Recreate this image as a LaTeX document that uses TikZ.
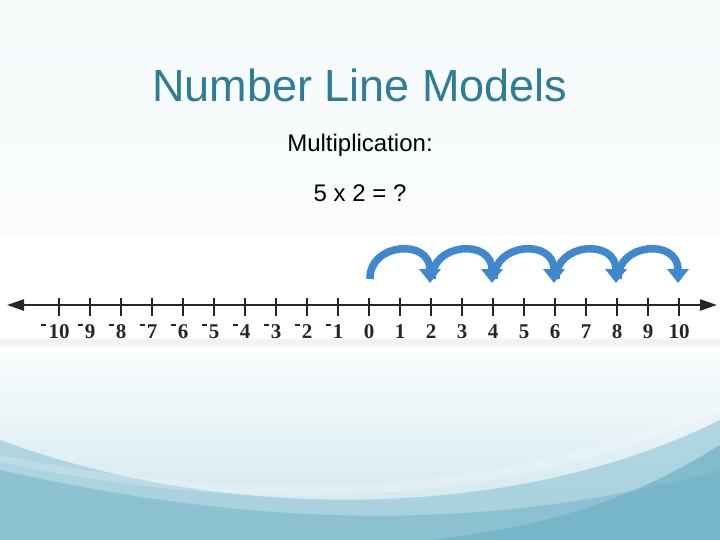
\documentclass[tikz,border=0pt]{standalone}
\usepackage{fontspec}
\setmainfont{Liberation Sans}
\newfontfamily\numfont{Liberation Serif}
\usetikzlibrary{arrows.meta}
\definecolor{titleblue}{HTML}{2E7C95}
\definecolor{linegray}{HTML}{262626}
\definecolor{jumpblue}{HTML}{3F87CF}
\definecolor{tealA}{HTML}{8DC4D4}
\definecolor{tealB}{HTML}{6FB1C5}
\definecolor{tealC}{HTML}{79B7C9}
\tikzset{
  tickmark/.style={line width=2.4pt, draw=linegray},
  numlab/.style={anchor=base, inner sep=0pt, font=\numfont\bfseries\fontsize{21}{24}\selectfont, text=linegray},
  jump/.style={line width=7.5pt, draw=jumpblue, line cap=butt, -{Triangle[width=21pt,length=14pt]}},
  axis/.style={line width=2.4pt, draw=linegray, {Triangle[width=11pt,length=17pt]}-{Triangle[width=11pt,length=17pt]}}
}
\newcommand{\negmark}{\llap{\rule[0.55em]{0.24em}{0.11em}\hspace{0.1em}}}
\begin{document}
\begin{tikzpicture}[x=1pt,y=-1pt]
\useasboundingbox (0,0) rectangle (720,540);
% background
\shade[top color=white!85!tealA!60, bottom color=white!96!tealA] (0,0) rectangle (720,236);
\shade[top color=white!97!tealA, bottom color=white!55!tealA] (0,346) rectangle (720,540);
\fill[tealA, opacity=0.6] (0,440) .. controls (230,525) and (520,520) .. (720,420) -- (720,540) -- (0,540) -- cycle;
\fill[tealC, opacity=0.6] (0,470) .. controls (200,515) and (450,545) .. (720,470) -- (720,540) -- (0,540) -- cycle;
\fill[tealB, opacity=0.7] (720,445) .. controls (640,495) and (560,525) .. (430,540) -- (720,540) -- cycle;
\fill[white, opacity=0.2] (0,455) .. controls (250,505) and (500,500) .. (720,400) -- (720,410) .. controls (500,510) and (250,515) .. (0,462) -- cycle;
% picture strip
\fill[white] (0,236) rectangle (720,346);
\fill[black!5] (0,339) rectangle (720,346);
% text
\node[font=\fontsize{45}{52}\selectfont, text=titleblue] (title) at (360,85) {Number Line Models};
\node[font=\fontsize{24}{28}\selectfont] (mult) at (360,145) {Multiplication:};
\node[font=\fontsize{24}{28}\selectfont] (eq) at (360,193) {5 x 2 = ?};
% number line
\coordinate (L) at (7,305);
\coordinate (R) at (717,305);
\draw[axis] (L) -- (R);
\foreach \i in {-10,...,10}{
  \pgfmathsetmacro{\xx}{369+31*\i}
  \coordinate (t\i) at (\xx,305);
  \draw[tickmark] ([yshift=7pt]t\i) -- ([yshift=-11pt]t\i);
}
\foreach \i in {1,...,10}{
  \node[numlab] (n\i) at ([yshift=-33pt]t\i) {\i};
  \node[numlab] (m\i) at ([yshift=-33pt]t-\i) {\negmark\i};
}
\node[numlab] (n0) at ([yshift=-33pt]t0) {0};
% jumps
\foreach \a/\b in {0/2,2/4,4/6,6/8,8/10}{
  \coordinate (s\a) at ([xshift=1pt,yshift=26pt]t\a);
  \coordinate (e\b) at ([xshift=-1pt,yshift=22pt]t\b);
  \draw[jump] (s\a) .. controls ([xshift=-1pt,yshift=36pt]s\a) and ([xshift=0pt,yshift=45pt]e\b) .. (e\b);
}
\end{tikzpicture}
\end{document}
